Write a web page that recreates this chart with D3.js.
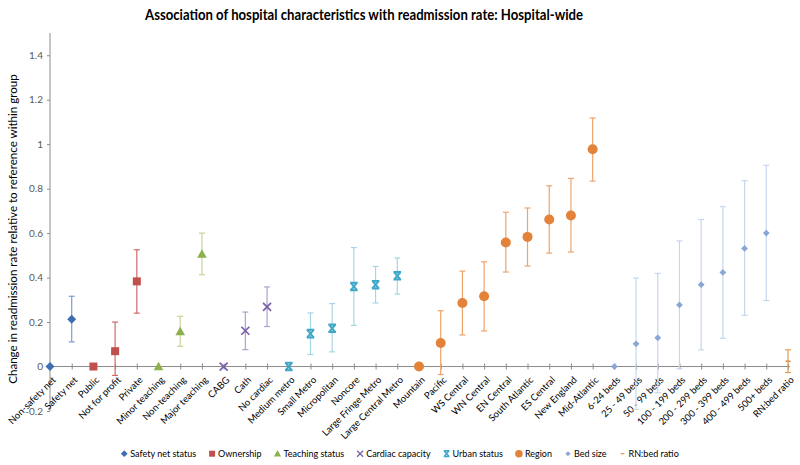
<!DOCTYPE html>
<html><head><meta charset="utf-8">
<script src="https://cdn.jsdelivr.net/npm/d3@7"></script>
<style>
body{margin:0;background:#fff;}
svg{display:block;font-family:Lato,"Open Sans",sans-serif;}
</style></head>
<body><svg id="c" width="800" height="465"></svg>
<script>
const categories = ["Non-safety net","Safety net","Public","Not for profit","Private","Minor teaching","Non-teaching","Major teaching","CABG","Cath","No cardiac","Medium metro","Small Metro","Micropolitan","Noncore","Large Fringe Metro","Large Central Metro","Mountain","Pacific","WS Central","WN Central","EN Central","South Atlantic","ES Central","New England","Mid-Atlantic","6-24 beds","25 - 49 beds","50 - 99 beds","100 - 199 beds","200 - 299 beds","300 - 399 beds","400 - 499 beds","500+ beds","RN:bed ratio"];
const groups = ["Safety net status","Ownership","Teaching status","Cardiac capacity","Urban status","Region","Bed size","RN:bed ratio"];
const groupOf = [0,0,1,1,1,2,2,2,3,3,3,4,4,4,4,4,4,5,5,5,5,5,5,5,5,5,6,6,6,6,6,6,6,6,7];
const estimate = [0,0.213,0,0.069,0.383,0,0.158,0.506,0,0.161,0.268,0,0.148,0.172,0.360,0.368,0.408,0,0.106,0.286,0.316,0.558,0.583,0.661,0.679,0.977,0,0.102,0.129,0.277,0.368,0.423,0.531,0.600,0.024];
const lowerCI = [null,0.111,null,-0.04,0.240,null,0.091,0.413,null,0.076,0.180,null,0.054,0.066,0.185,0.286,0.326,null,-0.036,0.142,0.160,0.425,0.452,0.510,0.515,0.834,null,-0.193,-0.118,-0.010,0.075,0.127,0.230,0.297,-0.027];
const upperCI = [null,0.316,null,0.200,0.525,null,0.226,0.600,null,0.245,0.358,null,0.241,0.283,0.535,0.450,0.488,null,0.251,0.429,0.471,0.694,0.713,0.813,0.846,1.118,null,0.398,0.419,0.565,0.661,0.719,0.836,0.905,0.075];
const yTicks = [-0.2,0,0.2,0.4,0.6,0.8,1,1.2,1.4];
const titleText = "Association of hospital characteristics with readmission rate: Hospital-wide";
const yLabel = "Change in readmission rate relative to reference within group";

const markerColor = ["#3D6DB3","#C0504D","#8FB04E","#7A5EA8","#3FA8C8","#E3833A","#8AA6D6","#E0914C"];
const barColor    = ["#7C9DD0","#D06A67","#C3D69A","#B0A0CC","#A6D6E5","#EDA36C","#C8D6EC","#E59B55"];
const shapes = [
  {type:"fill", d:"M0,-4.5L4.5,0L0,4.5L-4.5,0Z"},
  {type:"fill", d:"M-4,-4H4V4H-4Z"},
  {type:"fill", d:"M0,-4.8L4.8,3.8H-4.8Z"},
  {type:"stroke", d:"M-4,-4L4,4M4,-4L-4,4", w:1.7},
  {type:"stroke", d:"M-3.8,-3.8H3.8M-3.8,3.8H3.8M-3.3,-3.8L3.3,3.8M3.3,-3.8L-3.3,3.8", w:2},
  {type:"circle", r:5},
  {type:"fill", d:"M0,-3.4L3.4,0L0,3.4L-3.4,0Z"},
  {type:"stroke", d:"M-2.5,0H2.5", w:1.6}
];

const svg = d3.select("#c");
const x0 = 50, x1 = 788;
const x = d3.scalePoint().domain(categories).range([x0, x1]).padding(0);
const y = d3.scaleLinear().domain([-0.2, 1.5]).range([411, 33]);
const axisColor = "#8C8C8C";

// title
svg.append("text").attr("x", 364).attr("y", 20).attr("text-anchor","middle")
  .attr("font-size", 15).attr("font-weight","bold").attr("fill","#000")
  .attr("textLength", 438).attr("lengthAdjust","spacingAndGlyphs").text(titleText);

// y axis
const yAxis = d3.axisLeft(y).tickValues(yTicks).tickSize(3).tickPadding(4)
  .tickFormat(d => d === 0 ? "0" : String(+d.toFixed(1)));
const gy = svg.append("g").attr("transform", `translate(${x0},0)`).call(yAxis);
gy.select(".domain").remove();
gy.append("line").attr("x1",0).attr("x2",0).attr("y1",y(-0.2)).attr("y2",y(1.5)).attr("stroke",axisColor);
gy.selectAll(".tick line").attr("stroke",axisColor);
gy.selectAll(".tick text").attr("font-size",10).attr("fill","#595959").attr("font-family","Lato");

// y label
svg.append("text").attr("transform", `translate(17,229) rotate(-90)`).attr("text-anchor","middle")
  .attr("font-size",11.6).attr("fill","#000").text(yLabel);

// x axis at 0
const gx = svg.append("g").attr("transform", `translate(0,${y(0)})`);
gx.append("line").attr("x1",x0).attr("x2",790).attr("stroke",axisColor);
const xAxis = d3.axisBottom(x).tickSize(0).tickFormat(d => d);
const gxa = gx.append("g").call(xAxis);
gxa.select(".domain").remove();
gxa.selectAll(".tick").append("line").attr("y1",-3).attr("y2",3).attr("stroke",axisColor);
gxa.selectAll(".tick text")
  .attr("font-size",9.5).attr("fill","#000").attr("font-family","Lato")
  .attr("text-anchor","end").attr("dy",null).attr("y",0)
  .attr("transform","translate(6,14) rotate(-45)");

// error bars
const bars = svg.append("g");
categories.forEach((c,i) => {
  if (lowerCI[i] === null) return;
  const g = groupOf[i], cx = x(c);
  const col = barColor[g];
  bars.append("line").attr("x1",cx).attr("x2",cx).attr("y1",y(lowerCI[i])).attr("y2",y(upperCI[i])).attr("stroke",col).attr("stroke-width",1.2);
  [lowerCI[i], upperCI[i]].forEach(v => bars.append("line").attr("x1",cx-3).attr("x2",cx+3).attr("y1",y(v)).attr("y2",y(v)).attr("stroke",col).attr("stroke-width",1.2));
});

function drawMarker(sel, g, cx, cy, scale) {
  const s = shapes[g], col = markerColor[g];
  const t = `translate(${cx},${cy}) scale(${scale||1})`;
  if (s.type === "circle") sel.append("circle").attr("cx",cx).attr("cy",cy).attr("r",s.r*(scale||1)).attr("fill",col);
  else if (s.type === "fill") sel.append("path").attr("d",s.d).attr("transform",t).attr("fill",col);
  else sel.append("path").attr("d",s.d).attr("transform",t).attr("fill","none").attr("stroke",col).attr("stroke-width",s.w);
}
const marks = svg.append("g");
categories.forEach((c,i) => drawMarker(marks, groupOf[i], x(c), y(estimate[i]), 1));

// legend
const leg = svg.append("g");
let lx = 0;
groups.forEach((name,g) => {
  const it = leg.append("g").attr("transform",`translate(${lx},0)`);
  drawMarker(it, g, 3, -3.3, 0.75);
  const t = it.append("text").attr("x",9).attr("y",0).attr("font-size",9).attr("fill","#000").text(name);
  lx += 9 + t.node().getComputedTextLength() + 13;
});
const legW = lx - 13;
leg.attr("transform",`translate(${400 - legW/2},457)`);
</script></body></html>
